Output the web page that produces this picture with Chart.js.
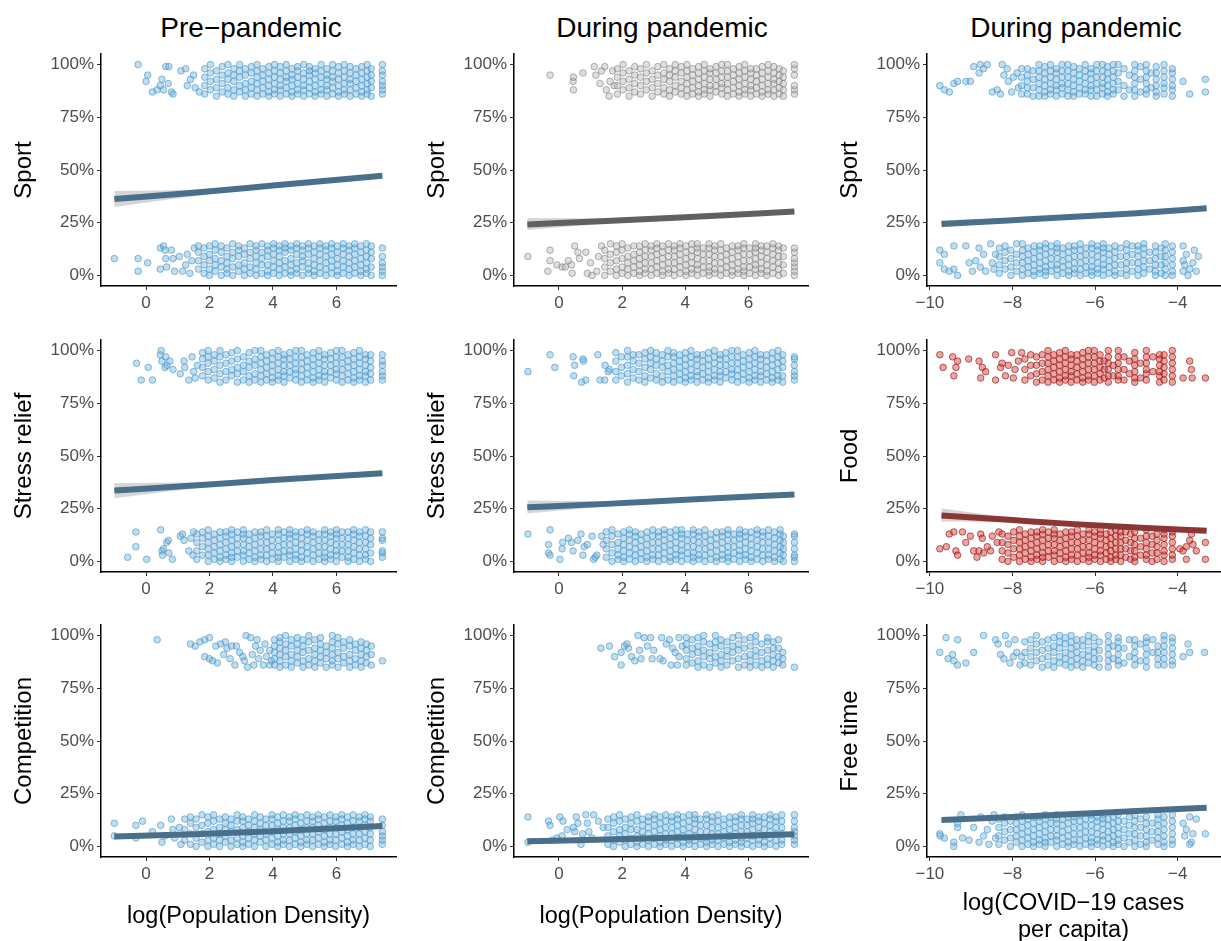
<!DOCTYPE html>
<html>
<head>
<meta charset="utf-8">
<script src="https://cdn.jsdelivr.net/npm/chart.js@4.4.1/dist/chart.umd.min.js"></script>
<style>
html, body { margin: 0; padding: 0; background: #fff; overflow: hidden; width: 1221px; height: 941px; }
.panel { position: absolute; }
.coltitle { position: absolute; top: 12px; line-height: 30px; font: 28px "Liberation Sans", Arial, Helvetica, sans-serif; color: #000; transform: translateX(-50%); white-space: nowrap; }
</style>
</head>
<body>
<div class="coltitle" style="left:251px">Pre−pandemic</div>
<div class="coltitle" style="left:662px">During pandemic</div>
<div class="coltitle" style="left:1076px">During pandemic</div>
<script>
const yTickValues = [0, 25, 50, 75, 100];
const densityTicks = [0, 2, 4, 6];
const covidTicks = [-10, -8, -6, -4];
const xTitles = ["log(Population Density)", "log(Population Density)", ["log(COVID−19 cases", "per capita)"]];

// fitted logistic curves: [fit, lower, upper] at the x positions below
const densityFitX = [-1, 1.5, 4, 7.45];
const covidFitX = [-9.72, -8, -6.5, -5, -3.3];
const preSportFit = [[36.2, 32.5, 40.1], [39.2, 37.6, 40.8], [42.6, 41.9, 43.3], [47.3, 46.1, 48.5]];
const preStressFit = [[33.6, 30, 37.2], [36, 34.6, 37.4], [38.6, 37.9, 39.3], [41.8, 40.7, 42.9]];
const preCompFit = [[4.7, 3.8, 5.8], [5.8, 5.3, 6.4], [7.2, 6.9, 7.5], [9.7, 9, 10.4]];
const durSportFit = [[24.2, 21.5, 27.2], [25.8, 24.6, 27], [27.6, 27, 28.2], [30.3, 29.3, 31.3]];
const durStressFit = [[25.7, 22.7, 28.9], [27.3, 26.1, 28.5], [29.2, 28.6, 29.8], [31.8, 30.8, 32.8]];
const durCompFit = [[2.5, 1.8, 3.4], [3.3, 2.9, 3.8], [4.3, 4, 4.6], [5.8, 5.2, 6.4]];
const covSportFit = [[24.4, 22.8, 26.2], [26.2, 25.3, 27.1], [27.8, 27.3, 28.3], [29.5, 28.8, 30.2], [31.9, 30.7, 33.2]];
const covFoodFit = [[21.8, 18.8, 25.1], [19.6, 18.5, 20.8], [17.7, 17.2, 18.2], [16.1, 15.4, 16.8], [14.6, 13.4, 15.9]];
const covFreeFit = [[12.6, 11.7, 13.7], [14, 13.4, 14.6], [15.4, 15, 15.8], [16.8, 16.2, 17.4], [18.4, 17.2, 19.7]];

// jittered responses: each entry is [x, y%, y%, ...]
const preSportHi = [
  [-0.25,100],[0,92],[0.05,95],[0.2,87],[0.35,88],[0.45,90],[0.5,93],[0.55,88],[0.62,99],[0.72,99],[0.7,91],[0.8,87],[0.85,86],[1.1,97],[1.25,98],[1.3,90],[1.4,93],[1.5,95],[1.55,89],[1.68,87],
  [1.85,86,90,94,98],[2.03,88,92,96,100],[2.22,85,89,93,97],[2.4,87,91,95,99],[2.58,86,89,93,96,100],
  [2.77,85,88,92,95,98],[2.95,87,90,94,97,100],[3.13,85,88,91,95,98],[3.32,86,89,92,96,99],[3.5,85,88,91,94,97,100],
  [3.68,86,89,92,95,98],[3.87,85,87,90,93,96,99],[4.05,86,88,91,94,97,100],[4.23,85,88,90,93,96,99],[4.42,86,89,92,94,97,100],
  [4.6,85,87,90,93,95,98],[4.78,86,88,91,94,97,99],[4.97,85,88,90,93,96,100],[5.15,86,89,92,95,97,99],[5.33,85,87,90,93,96,98],
  [5.52,86,88,91,94,97,100],[5.7,85,88,90,93,95,98],[5.88,86,89,92,94,97,100],[6.07,85,87,90,93,96,99],[6.25,86,88,91,94,97,100],
  [6.43,85,88,91,93,96,99],[6.62,86,89,92,95,98],[6.8,85,87,90,93,96,99],[6.97,86,88,91,94,97,100],[7.1,85,89,92,95,98],
  [7.45,86,88,90,92,95,97,100]
];
const preSportLo = [
  [-1,8],[-0.25,8],[-0.25,2],[0.05,6],[0.45,3],[0.45,13],[0.55,14],[0.6,12],[0.62,8],[0.65,4],[0.8,12],[0.85,8],[0.9,2],[1.05,9],[1.15,2],[1.25,5],[1.3,10],[1.38,1],[1.45,7],[1.52,13],
  [1.65,3,7,11,14],[1.83,1,5,9,13],[2.0,0,3,7,10,14],[2.18,2,5,8,12,15],[2.37,0,4,7,11,14],
  [2.55,1,3,6,9,13],[2.73,0,4,8,11,15],[2.92,2,5,9,12,14],[3.1,0,3,6,10,13],[3.28,1,4,8,11,15],
  [3.47,0,3,6,9,12,14],[3.65,1,5,8,11,15],[3.83,0,2,5,9,12,14],[4.02,1,4,7,10,13,15],[4.2,0,3,6,9,12,14],
  [4.38,1,4,7,11,13,15],[4.57,0,2,5,8,12,14],[4.75,1,3,6,10,13,15],[4.93,0,4,7,9,12,14],[5.12,1,3,6,10,13,15],
  [5.3,0,2,5,8,11,14],[5.48,1,4,7,10,13,15],[5.67,0,3,6,9,12,14],[5.85,1,4,7,10,13,15],[6.03,0,2,5,8,11,14],
  [6.22,1,4,7,10,13,15],[6.4,0,3,6,9,12,14],[6.58,1,4,7,10,13,15],[6.77,0,2,5,8,11,14],[6.95,1,3,6,9,12,15],[7.1,0,4,8,11,14],
  [7.45,0,2,4,6,9,13]
];
const preStressHi = [
  [-0.3,94],[-0.15,86],[0.07,92],[0.2,86],[0.45,98],[0.48,100],[0.5,95],[0.6,92],[0.66,93],[0.75,95],[0.62,97],[0.85,91],[1.08,89],[1.2,95],[1.22,92],[1.35,86],[1.45,97],[1.5,90],[1.55,87],[1.62,93],
  [1.78,88,92,96,99],[1.96,86,90,94,97,100],[2.15,87,91,95,98],[2.33,85,89,93,97,100],[2.52,86,90,94,98],
  [2.7,88,91,95,99],[2.88,85,89,92,96,100],[3.07,86,90,93,97],[3.25,85,88,92,95,99],[3.43,86,89,93,96,100],
  [3.62,85,88,91,94,97,100],[3.8,86,89,92,95,98],[3.98,85,87,90,93,96,99],[4.17,86,88,91,94,97,100],[4.35,85,88,90,93,96,98],
  [4.53,87,90,93,96,99],[4.72,86,89,91,94,97,100],[4.9,85,88,91,94,97,100],[5.08,86,89,92,95,98],[5.27,85,87,90,93,96,99],
  [5.45,86,88,91,94,97,100],[5.63,85,88,90,93,96,98],[5.82,87,90,93,96,99],[6.0,86,89,91,94,97,100],[6.18,85,88,91,94,97,100],
  [6.37,86,89,92,95,98],[6.55,85,87,90,93,96,99],[6.73,86,88,91,94,97,100],[6.92,85,88,90,93,96,98],[7.08,86,89,92,95,98],
  [7.45,86,88,90,93,95,98]
];
const preStressLo = [
  [-0.58,2],[-0.32,14],[-0.32,7],[0.02,1],[0.46,15],[0.5,5],[0.52,3],[0.55,6],[0.65,9],[0.7,10],[0.72,4],[0.83,1],[1.08,12],[1.15,13],[1.2,10],[1.35,5],[1.42,11],[1.5,14],[1.48,3],
  [1.6,1,5,9,13],[1.78,3,7,11,14],[1.96,0,3,6,9,12,15],[2.15,1,4,7,10,13],[2.33,0,2,5,8,11,14],
  [2.52,1,3,6,9,12,14],[2.7,0,2,4,7,10,13,15],[2.88,2,5,8,11,14],[3.07,0,3,5,8,11,13,15],[3.25,1,4,7,10,13],
  [3.43,0,2,5,8,11,14],[3.62,1,3,6,9,12,14],[3.8,0,3,6,9,12,15],[3.98,1,4,7,10,13],[4.17,0,2,4,7,10,13,15],
  [4.35,2,5,8,11,14],[4.53,0,3,5,8,11,13,15],[4.72,1,3,6,9,12,14],[4.9,0,2,5,8,11,14],[5.08,1,4,7,10,13,15],
  [5.27,0,3,6,9,12,14],[5.45,1,4,7,10,13],[5.63,0,2,4,7,10,13,15],[5.82,1,3,6,9,12,14],[6.0,0,3,5,8,11,13,15],
  [6.18,2,5,8,11,14],[6.37,0,2,5,8,11,14],[6.55,1,4,7,10,13,15],[6.73,0,3,6,9,12,14],[6.92,1,3,6,9,12,15],[7.08,0,4,8,11,14],
  [7.45,2,4,5,10,11,14]
];
const preCompHi = [
  [0.35,98],[1.4,96],[1.55,95],[1.7,97],[1.85,98],[1.85,90],[2.0,99],[2.0,89],[2.1,88],[2.2,95],[2.25,87],[2.35,96],[2.45,91],[2.5,97],[2.55,94],[2.65,89],[2.7,95],[2.8,86],[2.85,95],[2.95,92],
  [3.05,90],[3.1,88],[3.15,100],[3.2,85],[3.3,99],[3.35,91],[3.4,86],[3.45,95],[3.5,98],[3.55,89],[3.6,93],[3.7,86],[3.75,96],[3.8,90],[3.9,93],[3.95,88],[3.9,86],
  [4.05,86,89,92,95,98],[4.22,85,88,91,94,97,99],[4.4,86,90,93,96,100],[4.58,85,88,91,95,98],[4.77,87,90,93,96,99],
  [4.95,85,88,92,95,98],[5.13,86,89,93,97,100],[5.32,85,88,91,94,98],[5.5,87,90,93,96,99],[5.68,85,89,92,95],
  [5.87,86,88,91,94,97,100],[6.05,85,89,92,96,99],[6.23,87,90,94,97],[6.42,85,88,91,95,98],[6.6,86,89,93,96],
  [6.78,85,88,91,94,97],[6.95,87,90,93,96],[7.1,86,91,95],
  [7.45,88]
];
const preCompLo = [
  [-1,11],[-1,5],[-0.32,10],[-0.32,4],[-0.11,12],[0.2,7],[0.46,10],[0.5,2],[0.6,5],[0.8,13],[0.85,8],[0.9,4],[1.05,9],[1.1,1],
  [1.22,3,8,13],[1.4,1,6,11,14],[1.58,0,4,9,13],[1.76,2,6,10,15],[1.95,0,3,7,11,14],
  [2.13,1,4,8,12,15],[2.32,0,3,6,9,13],[2.5,2,5,8,11,14],[2.68,0,3,7,10,13],[2.87,1,4,8,12,15],
  [3.05,0,2,5,9,12,14],[3.23,1,4,7,10,13],[3.42,0,3,6,9,12,15],[3.6,2,5,8,11,14],[3.78,0,3,6,10,13],
  [3.97,1,4,7,10,13,15],[4.15,0,2,5,8,11,14],[4.33,1,3,6,9,12,15],[4.52,0,3,6,9,12,14],[4.7,1,4,7,10,13,15],
  [4.88,0,2,5,8,11,14],[5.07,1,3,6,9,12,15],[5.25,0,3,6,9,12,14],[5.43,1,4,7,10,13,15],[5.62,0,2,5,8,11,14],
  [5.8,1,3,6,9,12,15],[5.98,0,3,6,9,12,14],[6.17,1,4,7,10,13,15],[6.35,0,2,5,8,11,14],[6.53,1,3,6,9,12,15],
  [6.72,0,3,6,9,12,14],[6.9,1,4,7,10,13,15],[7.07,0,3,6,9,12,14],
  [7.45,1,3,5,7,10,13]
];
const durSportHi = [
  [-0.28,95],[0.45,92],[0.46,94],[0.46,88],[0.76,96],[1.12,99],[1.17,95],[1.3,91],[1.35,97],[1.45,99],[1.5,88],[1.59,85],[1.62,92],[1.7,97],[1.75,90],
  [1.85,86,90,94,98],[2.03,88,92,96,100],[2.22,85,89,93,97],[2.4,87,91,95,99],[2.58,86,90,94,98],
  [2.77,88,92,96,100],[2.95,85,89,93,97],[3.13,87,91,95,99],[3.32,86,89,93,96,100],[3.5,85,88,92,95,98],
  [3.68,87,90,94,97,100],[3.87,86,89,92,96,99],[4.05,85,88,91,94,97,100],[4.23,86,89,92,95,98],[4.42,85,87,90,93,96,99],
  [4.6,86,88,91,94,97,100],[4.78,85,88,90,93,96,98],[4.97,87,90,93,96,99],[5.15,86,89,91,94,97,100],[5.33,85,88,91,94,97,100],
  [5.52,86,89,92,95,98],[5.7,85,87,90,93,96,99],[5.88,86,88,91,94,97,100],[6.07,85,88,90,93,96,98],[6.25,86,89,92,95,98],
  [6.43,85,87,90,93,96,99],[6.62,86,88,91,94,97,100],[6.8,85,88,91,93,96,99],[6.97,86,89,92,95,98],[7.1,85,88,91,94,97],
  [7.45,86,88,90,95,98,100]
];
const durSportLo = [
  [-0.98,9],[-0.28,12],[-0.28,7],[-0.35,2],[-0.06,5],[0.1,4],[0.2,4],[0.3,7],[0.4,5],[0.42,1],[0.5,14],[0.6,11],[0.65,8],[0.85,11],[0.9,1],[1.0,6],[1.05,0],[1.2,2],[1.25,9],[1.35,14],
  [1.45,0,4,8,12],[1.63,2,6,10,15],[1.82,0,3,7,11,14],[2.0,1,4,8,12,15],[2.18,0,3,6,9,13],
  [2.37,1,4,7,10,14],[2.55,0,2,5,8,11,14],[2.73,1,3,6,9,12,15],[2.92,0,3,6,9,12,14],[3.1,1,4,7,10,13,15],
  [3.28,0,2,5,8,11,14],[3.47,1,3,6,9,12,15],[3.65,0,3,6,9,12,14],[3.83,1,4,7,10,13,15],[4.02,0,2,5,8,11,14],
  [4.2,1,3,6,9,12,15],[4.38,0,3,5,8,11,13,15],[4.57,1,4,7,10,13],[4.75,0,2,4,7,10,13,15],[4.93,1,3,6,9,12,14],
  [5.12,0,3,6,9,12,15],[5.3,1,4,7,10,13],[5.48,0,2,5,8,11,14],[5.67,1,3,6,9,12,14],[5.85,0,2,4,7,10,13,15],
  [6.03,1,4,7,10,13],[6.22,0,3,5,8,11,13,15],[6.4,1,3,6,9,12,14],[6.58,0,2,5,8,11,14],[6.77,1,4,7,10,13,15],[6.95,0,3,6,9,12,14],[7.1,1,5,9,13],
  [7.45,0,2,4,6,8,11,13]
];
const durStressHi = [
  [-0.98,90],[-0.28,98],[-0.13,92],[0.45,97],[0.5,93],[0.76,96],[0.78,95],[0.47,88],[0.72,85],[0.85,86],[1.23,98],[1.46,93],[1.56,90],[1.3,86],[1.45,86],[1.6,91],
  [1.8,86,90,95,99],[1.98,88,92,97],[2.17,85,89,93,97,100],[2.35,87,91,95,98],[2.53,86,90,94,98],
  [2.72,85,88,92,96,99],[2.9,87,91,94,97,100],[3.08,86,89,93,96,99],[3.27,85,88,92,95,98],[3.45,86,90,93,97,100],
  [3.63,85,88,91,94,97,99],[3.82,86,89,92,95,98],[4.0,85,87,90,93,96,99],[4.18,86,88,91,94,97,100],[4.37,85,88,90,93,96,98],
  [4.55,86,89,92,95,98],[4.73,85,87,90,93,96,99],[4.92,86,88,91,94,97,100],[5.1,85,88,90,93,96,98],[5.28,87,90,93,96,99],
  [5.47,86,89,91,94,97,100],[5.65,85,88,91,94,97,100],[5.83,86,89,92,95,98],[6.02,85,87,90,93,96,99],[6.2,86,88,91,94,97,100],
  [6.38,85,88,90,93,96,98],[6.57,86,89,92,95,98],[6.75,85,87,90,93,96,99],[6.93,86,88,91,94,97,100],[7.08,85,88,92,95,98],
  [7.45,86,88,90,93,96,97]
];
const durStressLo = [
  [-0.98,13],[-0.28,15],[-0.33,8],[-0.33,4],[-0.28,3],[0.03,1],[0.1,6],[0.12,9],[0.3,11],[0.4,9],[0.45,5],[0.6,10],[0.7,13],[0.76,3],[0.8,7],[0.9,8],[1.05,12],[1.1,1],[1.15,2],[1.2,3],[1.35,12],[1.4,8],
  [1.5,2,6,10,14],[1.68,0,4,8,12,15],[1.87,1,3,6,9,13],[2.05,0,2,5,8,11,14],[2.23,1,4,7,10,13,15],
  [2.42,0,3,6,9,12,14],[2.6,1,4,7,10,13],[2.78,0,2,5,8,11,14],[2.97,1,3,6,9,12,15],[3.15,0,3,6,9,12,14],
  [3.33,1,4,7,10,13,15],[3.52,0,2,5,8,11,14],[3.7,1,3,6,9,12,15],[3.88,0,3,5,8,11,13,15],[4.07,1,4,7,10,13],
  [4.25,0,2,4,7,10,13,15],[4.43,1,3,6,9,12,14],[4.62,0,3,6,9,12,15],[4.8,1,4,7,10,13],[4.98,0,2,5,8,11,14],
  [5.17,1,3,6,9,12,14],[5.35,0,2,4,7,10,13,15],[5.53,1,4,7,10,13],[5.72,0,3,5,8,11,13,15],[5.9,1,3,6,9,12,14],
  [6.08,0,2,5,8,11,14],[6.27,1,4,7,10,13,15],[6.45,0,3,6,9,12,14],[6.63,1,3,6,9,12,15],[6.82,0,2,5,8,11,14],[7.0,1,4,7,10,13,15],[7.1,0,3,6,9,12],
  [7.45,0,2,3,6,9,12,13]
];
const durCompHi = [
  [1.33,94],[1.6,95],[1.76,90],[1.97,86],[1.97,92],[2.07,95],[2.15,96],[2.2,94],[2.3,90],[2.4,88],[2.5,100],[2.55,93],[2.6,89],[2.7,99],[2.8,95],[2.9,99],[2.95,89],[3.0,93],[3.2,89],[3.25,99],
  [3.3,88],[3.4,96],[3.5,98],[3.55,86],[3.6,94],[3.68,92],[3.75,86],[3.8,99],[3.8,90],[3.9,95],
  [4.03,86,89,93,96,99],[4.22,87,91,94,98],[4.4,85,88,92,95,99],[4.58,86,90,93,97,100],[4.77,85,89,92,96],
  [4.95,87,90,94,97,100],[5.13,85,88,91,95,98],[5.32,86,90,93,97],[5.5,88,92,95,99],[5.68,85,89,93,96,100],
  [5.87,86,90,94,98],[6.05,85,88,91,95,99],[6.23,86,90,93,97,100],[6.42,85,88,92,96],[6.6,86,89,93,97,99],
  [6.78,85,88,91,94,97],[6.95,87,90,94,98],[7.08,86,89,92],
  [7.45,85]
];
const durCompLo = [
  [-0.98,14],[-0.98,2],[-0.33,12],[-0.28,10],[0.03,14],[0.13,12],[-0.2,3],[-0.06,4],[0.1,5],[0.26,8],[0.46,9],[0.5,7],[0.55,14],[0.6,11],[0.7,1],[0.75,6],[0.85,15],[0.9,11],[0.95,7],[1.05,4],[1.1,15],[1.25,12],[1.4,9],
  [1.55,1,5,9,13],[1.73,0,3,7,11,14],[1.92,2,5,8,12,15],[2.1,0,3,6,9,13],[2.28,1,4,8,11,14],
  [2.47,0,2,5,8,12,15],[2.65,1,4,7,10,13],[2.83,0,3,6,9,12,14],[3.02,1,4,7,10,13,15],[3.2,0,2,5,8,11,14],
  [3.38,1,3,6,9,12,15],[3.57,0,3,6,9,12,14],[3.75,1,4,7,10,13,15],[3.93,0,2,5,8,11,14],[4.12,1,3,6,9,12,15],
  [4.3,0,3,5,8,11,13,15],[4.48,1,4,7,10,13],[4.67,0,2,4,7,10,13,15],[4.85,1,3,6,9,12,14],[5.03,0,3,6,9,12,15],
  [5.22,1,4,7,10,13],[5.4,0,2,5,8,11,14],[5.58,1,3,6,9,12,14],[5.77,0,2,4,7,10,13,15],[5.95,1,4,7,10,13],
  [6.13,0,3,5,8,11,13,15],[6.32,1,3,6,9,12,14],[6.5,0,2,5,8,11,14],[6.68,1,4,7,10,13,15],[6.87,0,3,6,9,12,14],[7.05,1,3,6,9,12,15],
  [7.45,1,3,5,7,9,12,15]
];
const covSportHi = [
  [-9.76,90],[-9.65,88],[-9.53,87],[-9.42,91],[-9.33,92],[-9.13,92],[-9.02,92],[-8.94,99],[-8.78,100],[-8.81,96],[-8.7,98],[-8.61,100],[-8.49,87],[-8.37,88],[-8.29,86],[-8.25,100],[-8.21,95],[-8.13,98],[-8.1,92],[-8.02,87],[-7.98,94],[-7.89,96],[-7.86,89],
  [-7.78,86,90,94,98],[-7.64,86,89,92,95,98],[-7.5,85,89,93,97],[-7.36,85,88,91,94,97,100],[-7.22,85,87,90,93,96,99],
  [-7.08,86,88,91,94,97,100],[-6.94,85,88,90,93,96,98],[-6.8,86,89,91,94,97,100],[-6.66,85,88,91,94,97,100],[-6.52,85,87,90,93,96,99],
  [-6.38,86,89,92,95,98],[-6.24,86,88,91,94,97,100],[-6.1,85,88,90,93,96,98],[-5.96,85,88,91,94,97,100],[-5.82,86,89,91,94,97,100],
  [-5.7,85,87,90,93,96,99],[-5.56,86,88,91,94,97,100],[-5.44,88,92,96,100],[-5.3,85,90,98],[-5.17,88,95],
  [-5.04,85,88,91,94,97,100],[-4.9,87,93,99],[-4.76,86,88,91,94,97,100],[-4.64,89,96],[-4.52,85,87,90,93,96,99],
  [-4.33,86,89,91,94,97,100],[-4.13,85,88,90,93,96,98],
  [-3.87,92],[-3.71,86],[-3.33,93],[-3.33,87]
];
const covSportLo = [
  [-9.76,12],[-9.65,10],[-9.76,6],[-9.65,3],[-9.53,2],[-9.42,14],[-9.42,3],[-9.33,0],[-9.13,14],[-9.05,6],[-8.97,2],[-8.89,7],[-8.81,13],[-8.78,4],[-8.7,10],[-8.65,2],[-8.53,15],[-8.49,6],[-8.45,3],[-8.41,10],
  [-8.32,1,5,9,13],[-8.18,3,7,11,14],[-8.04,0,4,8,12],[-7.9,2,6,10,15],
  [-7.76,0,3,6,9,12,15],[-7.62,1,4,7,10,13],[-7.48,0,2,5,8,11,14],[-7.34,1,3,6,9,12,14],[-7.2,0,2,4,7,10,13,15],
  [-7.06,2,5,8,11,14],[-6.92,0,3,5,8,11,13,15],[-6.78,1,4,7,10,13],[-6.64,0,2,5,8,11,14],[-6.5,1,3,6,9,12,14],
  [-6.36,0,3,6,9,12,15],[-6.22,1,4,7,10,13],[-6.08,0,2,4,7,10,13,15],[-5.94,1,3,6,9,12,14],[-5.8,0,3,5,8,11,13,15],
  [-5.66,1,4,7,10,13],[-5.52,0,2,5,8,11,14],[-5.38,1,5,9,13],[-5.24,0,3,6,9,12,15],[-5.1,2,6,10,14],
  [-4.96,0,3,6,9,12,14],[-4.82,1,4,7,10,13,15],[-4.68,3,7,11],[-4.54,0,2,5,8,11,14],[-4.4,1,5,9,13],
  [-4.3,0,3,6,9,12,15],[-4.13,0,2,5,8,11,14],
  [-3.87,14],[-3.79,10],[-3.87,7],[-3.83,5],[-3.71,3],[-3.63,6],[-3.55,2],[-3.75,0],[-3.87,2],[-3.6,12],[-3.5,9]
];
const covFoodHi = [
  [-9.76,98],[-9.68,92],[-9.45,97],[-9.42,88],[-9.37,92],[-9.33,95],[-9.06,96],[-8.81,95],[-8.77,87],[-8.73,92],[-8.65,90],[-8.41,86],[-8.41,98],[-8.29,92],[-8.25,94],[-8.17,88],[-8.1,93],[-8.02,99],[-7.98,87],[-7.94,91],[-7.86,95],[-7.78,99],
  [-7.7,86,91,96],[-7.56,88,93,98],[-7.42,85,89,93,97],[-7.28,86,90,94,98],[-7.14,85,88,91,94,97,100],
  [-7.0,86,89,92,95,98],[-6.86,85,87,90,93,96,99],[-6.72,86,88,91,94,97,100],[-6.58,85,88,90,93,96,98],[-6.44,86,89,92,95,98],
  [-6.3,85,87,90,93,96,99],[-6.16,86,88,91,94,97,100],[-6.02,85,88,91,94,97,100],[-5.88,86,89,92,95,98],[-5.78,87,91,95],
  [-5.68,85,88,91,94,97,100],[-5.56,88,93],[-5.44,86,88,91,94,97,100],[-5.3,86,91,97],[-5.17,89,95],
  [-5.04,85,87,90,93,96,99],[-4.9,87,94],[-4.76,86,89,91,94,97,100],[-4.6,90,97],[-4.44,85,88,90,93,96,98],
  [-4.33,86,89,92,95,98],[-4.13,85,88,91,94,97,100],
  [-3.87,87],[-3.71,95],[-3.67,91],[-3.65,87],[-3.33,87]
];
const covFoodLo = [
  [-9.76,6],[-9.6,7],[-9.53,13],[-9.42,14],[-9.37,5],[-9.33,3],[-9.21,14],[-9.13,9],[-9.02,12],[-8.94,5],[-8.86,2],[-8.81,5],[-8.77,13],[-8.73,11],[-8.7,4],[-8.61,7],[-8.53,5],[-8.49,12],[-8.37,9],[-8.33,14],
  [-8.25,1,5,9,13],[-8.11,0,4,8,12],[-7.97,2,6,10,14],
  [-7.83,0,3,6,9,12,15],[-7.69,1,4,7,10,13],[-7.55,0,2,5,8,11,14],[-7.41,1,3,6,9,12,14],[-7.27,0,2,4,7,10,13,15],
  [-7.13,2,5,8,11,14],[-6.99,0,3,5,8,11,13,15],[-6.85,1,4,7,10,13],[-6.71,0,2,5,8,11,14],[-6.57,1,3,6,9,12,14],
  [-6.43,0,3,6,9,12,15],[-6.29,1,4,7,10,13],[-6.15,0,2,4,7,10,13,15],[-6.01,1,3,6,9,12,14],[-5.87,0,3,5,8,11,13,15],
  [-5.73,1,4,7,10,13],[-5.62,0,2,5,8,11,14],[-5.5,1,3,6,9,12,15],[-5.38,0,3,6,9,12,14],[-5.26,2,6,10,14],
  [-5.14,1,5,9,13],[-5.04,0,2,5,8,11,14],[-4.9,3,7,11],[-4.76,1,3,6,9,12,15],[-4.62,0,4,8,12],
  [-4.5,1,4,7,10,13],[-4.33,0,3,5,8,11,13,15],[-4.13,1,3,6,9,12,14],
  [-3.95,6],[-3.87,5],[-3.79,7],[-3.71,10],[-3.67,13],[-3.63,8],[-3.55,5],[-3.33,9],[-3.33,1],[-3.79,1]
];
const covFreeHi = [
  [-9.76,92],[-9.61,99],[-9.56,89],[-9.45,91],[-9.42,88],[-9.33,98],[-9.33,86],[-9.13,87],[-8.94,92],[-8.7,100],[-8.41,98],[-8.35,96],[-8.29,91],[-8.21,89],[-8.17,100],[-8.1,96],[-8.06,87],[-7.98,90],[-7.94,98],[-7.9,92],[-7.82,86],[-7.78,90],
  [-7.7,87,92,97],[-7.56,86,90,94,98],[-7.42,88,92,96,100],[-7.28,85,89,93,97],[-7.14,86,90,94,98],
  [-7.0,85,88,92,95,99],[-6.86,87,90,94,97,100],[-6.72,86,89,92,96,99],[-6.58,85,88,91,94,97,100],[-6.44,86,89,92,95,98],
  [-6.3,85,88,91,95,98],[-6.16,87,90,93,97,100],[-6.02,86,89,92,95,99],[-5.9,85,89,93,97],
  [-5.68,85,88,91,94,97,100],[-5.56,89,95],[-5.44,86,88,91,94,97,99],[-5.3,87,94],[-5.17,90,98],
  [-5.04,86,89,92,95,98],[-4.9,88,96],[-4.76,85,88,91,94,97,99],[-4.6,92,98],[-4.48,86,89,92,95],
  [-4.33,86,89,92,95,98,100],[-4.13,86,88,91,94,97,99],
  [-3.87,90],[-3.75,96],[-3.71,92],[-3.35,92]
];
const covFreeLo = [
  [-9.76,6],[-9.75,5],[-9.65,4],[-9.42,2],[-9.42,0],[-9.33,9],[-9.33,11],[-9.25,15],[-9.21,4],[-9.05,3],[-8.94,9],[-8.81,2],[-8.77,14],[-8.7,5],[-8.61,8],[-8.57,1],[-8.49,12],[-8.45,15],[-8.41,4],
  [-8.33,1,5,9,13],[-8.19,3,7,11,14],[-8.05,0,4,8,12],
  [-7.91,2,5,8,11,14],[-7.77,0,3,6,9,12,15],[-7.63,1,4,7,10,13],[-7.49,0,2,5,8,11,14],[-7.35,1,3,6,9,12,14],
  [-7.21,0,2,4,7,10,13,15],[-7.07,2,5,8,11,14],[-6.93,0,3,5,8,11,13,15],[-6.79,1,4,7,10,13],[-6.65,0,2,5,8,11,14],
  [-6.51,1,3,6,9,12,14],[-6.37,0,3,6,9,12,15],[-6.23,1,4,7,10,13],[-6.09,0,2,4,7,10,13,15],[-5.95,1,3,6,9,12,14],
  [-5.81,0,3,5,8,11,13,15],[-5.68,1,4,7,10,13],[-5.56,0,2,5,8,11,14],[-5.44,1,3,6,9,12,15],[-5.3,0,4,8,12],
  [-5.17,2,6,10,14],[-5.04,0,3,6,9,12,15],[-4.9,1,5,9,13],[-4.76,0,2,5,8,11,14],[-4.62,3,7,11],
  [-4.48,1,4,7,10,13,15],[-4.33,0,2,5,8,11,14],[-4.13,1,3,6,9,12,15],
  [-3.87,11],[-3.83,5],[-3.79,8],[-3.71,14],[-3.67,2],[-3.63,6],[-3.55,13],[-3.33,6],[-3.71,1]
];

const panels = [
  { col: 0, row: 0, label: "Sport", hi: preSportHi, lo: preSportLo, fit: preSportFit, color: "blue" },
  { col: 0, row: 1, label: "Stress relief", hi: preStressHi, lo: preStressLo, fit: preStressFit, color: "blue" },
  { col: 0, row: 2, label: "Competition", hi: preCompHi, lo: preCompLo, fit: preCompFit, color: "blue" },
  { col: 1, row: 0, label: "Sport", hi: durSportHi, lo: durSportLo, fit: durSportFit, color: "grey" },
  { col: 1, row: 1, label: "Stress relief", hi: durStressHi, lo: durStressLo, fit: durStressFit, color: "blue" },
  { col: 1, row: 2, label: "Competition", hi: durCompHi, lo: durCompLo, fit: durCompFit, color: "blue" },
  { col: 2, row: 0, label: "Sport", hi: covSportHi, lo: covSportLo, fit: covSportFit, color: "blue" },
  { col: 2, row: 1, label: "Food", hi: covFoodHi, lo: covFoodLo, fit: covFoodFit, color: "red" },
  { col: 2, row: 2, label: "Free time", hi: covFreeHi, lo: covFreeLo, fit: covFreeFit, color: "blue" },
];

const palette = {
  blue: { fill: "rgba(107,174,214,0.42)", stroke: "rgba(66,146,198,0.6)", line: "#4a6f8a" },
  grey: { fill: "rgba(175,175,175,0.4)", stroke: "rgba(110,110,110,0.5)", line: "#606060" },
  red: { fill: "rgba(225,60,55,0.48)", stroke: "rgba(120,20,20,0.6)", line: "#8b3636" },
};

const FONT = '"Liberation Sans", Arial, Helvetica, sans-serif';
const colLeft = [101, 514, 927];
const colRight = [401, 813, 1225];
const rowTop = [54, 340, 625];
const rowBottom = [286, 572, 857];
const xRanges = [[-1.42, 7.88], [-1.42, 7.88], [-10.07, -2.976]];
const Y_AXIS_W = 90;
const TOP_PAD = 8;

const toPoints = (cols) => cols.flatMap(([x, ...ys]) => ys.map((y) => ({ x, y })));
const fmtNum = (v) => (v < 0 ? "−" + Math.abs(v) : String(v));

function drawPanel(p) {
  const pal = palette[p.color];
  const fitX = p.col === 2 ? covidFitX : densityFitX;
  const xTicks = p.col === 2 ? covidTicks : densityTicks;
  const xAxisH = p.row < 2 ? 40 : p.col === 2 ? 87 : 73;

  const left = colLeft[p.col] - Y_AXIS_W;
  const top = rowTop[p.row] - TOP_PAD;
  const width = colRight[p.col] - left;
  const height = rowBottom[p.row] - top + xAxisH;

  const box = document.createElement("div");
  box.className = "panel";
  box.style.left = left + "px";
  box.style.top = top + "px";
  const canvas = document.createElement("canvas");
  canvas.width = width;
  canvas.height = height;
  canvas.style.width = width + "px";
  canvas.style.height = height + "px";
  box.appendChild(canvas);
  document.body.appendChild(box);

  const curve = (k) => fitX.map((x, i) => ({ x, y: p.fit[i][k] }));
  const pointStyle = {
    showLine: false,
    pointRadius: 3.3,
    pointBorderWidth: 1,
    pointBackgroundColor: pal.fill,
    pointBorderColor: pal.stroke,
  };

  new Chart(canvas, {
    type: "line",
    data: {
      datasets: [
        { data: curve(1), borderWidth: 0, pointRadius: 0, fill: false, cubicInterpolationMode: "monotone", order: 2 },
        { data: curve(2), borderWidth: 0, pointRadius: 0, fill: "-1", backgroundColor: "rgba(153,153,153,0.4)", cubicInterpolationMode: "monotone", order: 1 },
        { data: curve(0), borderColor: pal.line, borderWidth: 6, pointRadius: 0, fill: false, cubicInterpolationMode: "monotone", order: 0 },
        { data: toPoints(p.hi), ...pointStyle, order: 3 },
        { data: toPoints(p.lo), ...pointStyle, order: 4 },
      ],
    },
    options: {
      responsive: false,
      animation: false,
      devicePixelRatio: 1,
      layout: { padding: { top: TOP_PAD, left: 0, right: 0, bottom: 0 } },
      plugins: { legend: { display: false }, tooltip: { enabled: false } },
      scales: {
        x: {
          type: "linear",
          min: xRanges[p.col][0],
          max: xRanges[p.col][1],
          afterBuildTicks: (s) => { s.ticks = xTicks.map((v) => ({ value: v })); },
          afterFit: (s) => { s.height = xAxisH; s.paddingLeft = 0; s.paddingRight = 0; },
          border: { display: true, color: "#000", width: 1.5 },
          grid: { display: true, drawOnChartArea: false, drawTicks: true, tickLength: 4, color: "#333", lineWidth: 1 },
          ticks: { color: "#4d4d4d", font: { family: FONT, size: 17 }, padding: 3, maxRotation: 0, autoSkip: false, callback: (v) => fmtNum(v) },
          title: { display: p.row === 2, text: xTitles[p.col], color: "#000", font: { family: FONT, size: 23.5, lineHeight: 1.15 }, padding: 0 },
        },
        y: {
          type: "linear",
          min: -5,
          max: 105,
          afterBuildTicks: (s) => { s.ticks = yTickValues.map((v) => ({ value: v })); },
          afterFit: (s) => { s.width = Y_AXIS_W; s.paddingTop = 0; s.paddingBottom = 0; },
          border: { display: true, color: "#000", width: 1.5 },
          grid: { display: true, drawOnChartArea: false, drawTicks: true, tickLength: 4, color: "#333", lineWidth: 1 },
          ticks: { color: "#4d4d4d", font: { family: FONT, size: 17 }, padding: 3, callback: (v) => v + "%" },
          title: { display: true, text: p.label, color: "#000", font: { family: FONT, size: 24, lineHeight: 1.15 }, padding: 0 },
        },
      },
    },
  });
}

panels.forEach(drawPanel);
</script>
</body>
</html>
